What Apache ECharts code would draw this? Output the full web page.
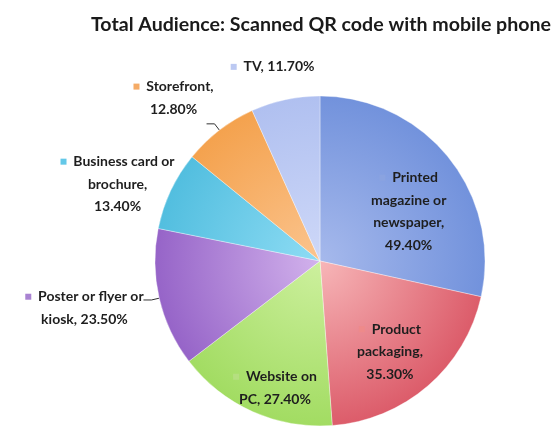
<!DOCTYPE html>
<html>
<head>
<meta charset="utf-8">
<script src="https://cdn.jsdelivr.net/npm/echarts@6/dist/echarts.min.js"></script>
<style>
html,body{margin:0;padding:0;background:#fff;}
#chart{width:554px;height:439px;}
</style>
</head>
<body>
<div id="chart"></div>
<script>
// ---- data ----
const categories = ['Printed magazine or newspaper', 'Product packaging', 'Website on PC', 'Poster or flyer or kiosk', 'Business card or brochure', 'Storefront', 'TV'];
const values = [49.4, 35.3, 27.4, 23.5, 13.4, 12.8, 11.7];
const labelNameLines = [
  ['Printed', 'magazine or', 'newspaper,'],
  ['Product', 'packaging,'],
  ['Website on', 'PC,'],
  ['Poster or flyer or', 'kiosk,'],
  ['Business card or', 'brochure,'],
  ['Storefront,'],
  ['TV,']
];
const valueOnNewLine = [true, true, false, false, true, true, false];
const titleText = 'Total Audience: Scanned QR code with mobile phone';

// ---- style ----
const innerColors = ['#a6b9ec', '#f7b6b8', '#cdf09e', '#d2b2ec', '#8edcf4', '#fbc48e', '#ced8f8'];
const outerColors = ['#7292dc', '#dc5c6a', '#a2dc62', '#9664c8', '#52bedf', '#f4a24e', '#b0c0f0'];
const markerColors = ['#8aa3e0', '#ee8a8a', '#b5df80', '#a983d2', '#63c8e8', '#f5ab66', '#bcc9f2'];
const insideSet = [true, true, true, false, false, false, false];
const labelNudge = [[22, 4], [14, 26], [-10, 49], [-54, 8], [-33, -3], [-28, -26], [2, -25]];

const CX = 320, CY = 261, R = 165;
const FONT = 'Lato, "Open Sans", sans-serif';

const rich = { t: { fontFamily: FONT, fontWeight: 'bold', fontSize: 14, color: '#1e1e1e', lineHeight: 22.5 } };
markerColors.forEach((c, i) => {
  rich['m' + i] = { width: 6, height: 6, backgroundColor: c, padding: 0 };
});

function labelText(i) {
  const lines = labelNameLines[i].slice();
  const v = values[i].toFixed(2) + '%';
  if (valueOnNewLine[i]) lines.push(v); else lines[lines.length - 1] += ' ' + v;
  return lines.map((l, k) => (k === 0 ? '{m' + i + '|}{t|  ' + l + '}' : '{t|' + l + '}')).join('\n');
}

const data = categories.map((name, i) => ({
  name: name,
  value: values[i],
  itemStyle: {
    color: {
      type: 'radial', x: CX, y: CY, r: R, global: true,
      colorStops: [{ offset: 0, color: innerColors[i] }, { offset: 1, color: outerColors[i] }]
    }
  },
  label: {
    position: insideSet[i] ? 'inside' : 'outside',
    formatter: () => labelText(i)
  },
  labelLine: { show: i === 3 || i === 5 }
}));

const chart = echarts.init(document.getElementById('chart'), null, { renderer: 'canvas' });
chart.setOption({
  backgroundColor: '#ffffff',
  animation: false,
  title: {
    text: titleText,
    left: 316, top: 10, textAlign: 'center',
    textStyle: { fontFamily: FONT, fontWeight: 'bold', fontSize: 19.6, color: '#1a1a1a' }
  },
  series: [{
    type: 'pie',
    center: [CX, CY],
    radius: [0, R],
    startAngle: 90,
    clockwise: true,
    avoidLabelOverlap: false,
    itemStyle: { borderColor: 'rgba(255,255,255,0.35)', borderWidth: 1 },
    label: { show: true, rich: rich, align: 'center' },
    labelLine: { length: 8, length2: 8, lineStyle: { color: '#333', width: 1 } },
    labelLayout: function (p) {
      const n = labelNudge[p.dataIndex];
      const o = { dx: n[0], dy: n[1] };
      if (!insideSet[p.dataIndex]) o.align = 'center';
      return o;
    },
    data: data
  }]
});
</script>
</body>
</html>
